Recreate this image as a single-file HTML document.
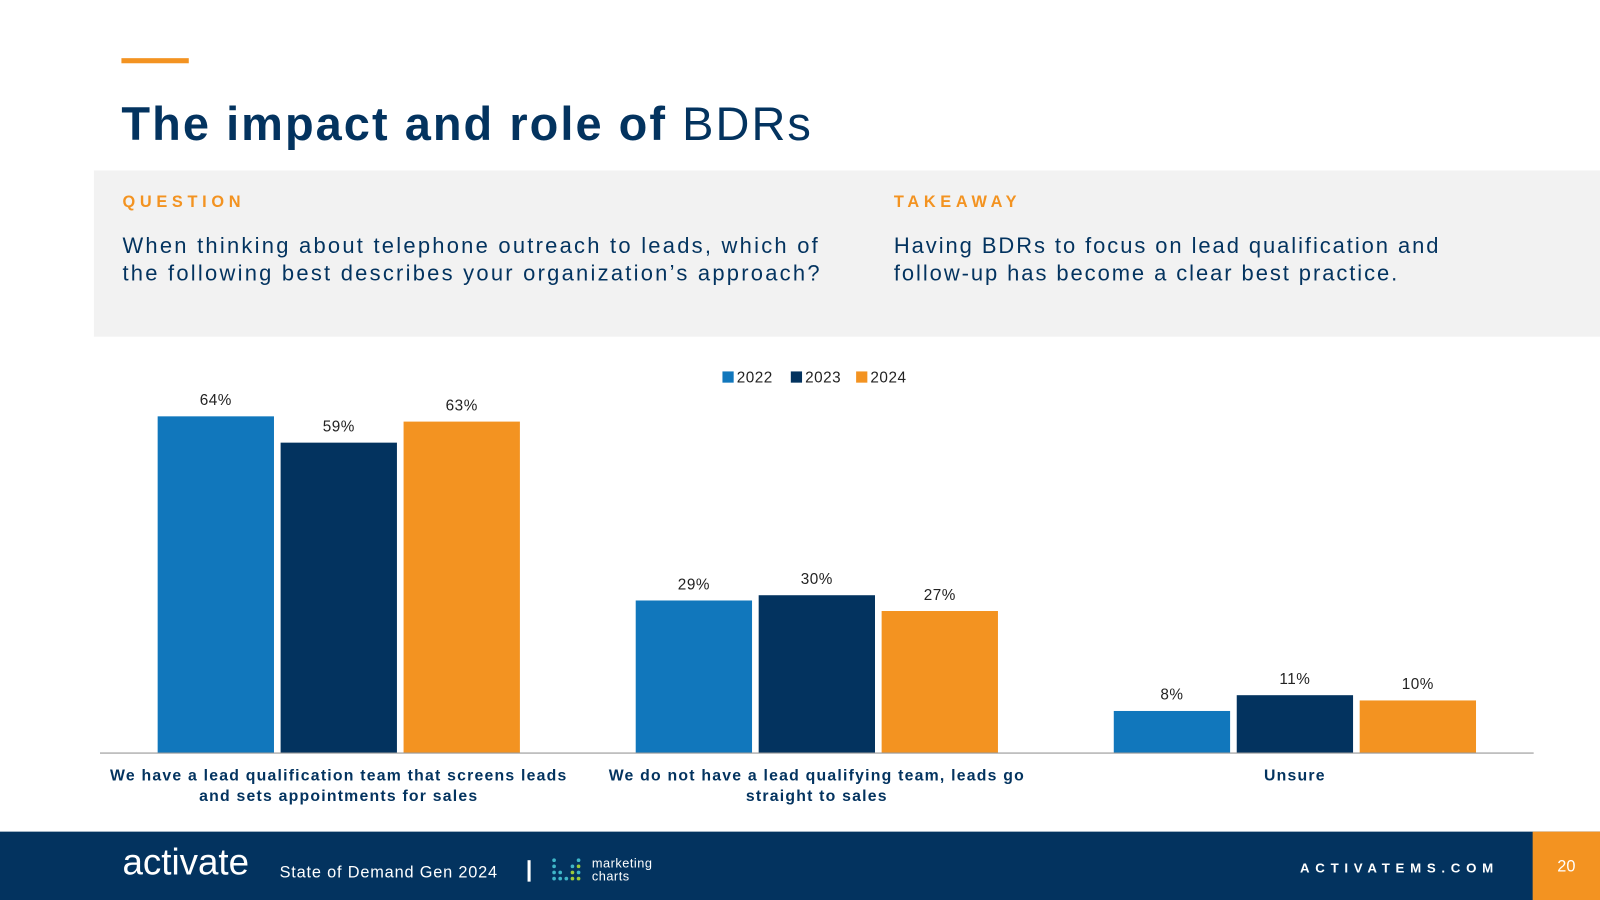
<!DOCTYPE html>
<html><head><meta charset="utf-8"><style>
html,body{margin:0;padding:0;width:1600px;height:900px;overflow:hidden;background:#fff}
#w{width:1568px;height:882px;position:relative;transform:scale(1.020408);transform-origin:0 0;font-family:"Liberation Sans",sans-serif}
.a{position:absolute}
</style></head><body>
<div id="w">
<div class="a" style="left:119px;top:57px;width:66px;height:5px;background:#f39321"></div>
<div class="a" style="left:119px;top:94px;font-size:46px;letter-spacing:2px;color:#03335f;white-space:nowrap"><b>The impact and role of</b> BDRs</div>
<div class="a" style="left:92px;top:167px;width:1476px;height:163px;background:#f2f2f2"></div>
<div class="a" style="left:120px;top:190px;font-size:16px;font-weight:bold;letter-spacing:4.6px;color:#f39321">QUESTION</div>
<div class="a" style="left:120px;top:228px;font-size:21.5px;line-height:27px;letter-spacing:2.2px;color:#03335f;white-space:nowrap">When thinking about telephone outreach to leads, which of<br>the following best describes your organization’s approach?</div>
<div class="a" style="left:876px;top:190px;font-size:16px;font-weight:bold;letter-spacing:4.6px;color:#f39321">TAKEAWAY</div>
<div class="a" style="left:876px;top:228px;font-size:21.5px;line-height:27px;letter-spacing:1.9px;color:#03335f;white-space:nowrap">Having BDRs to focus on lead qualification and<br>follow-up has become a clear best practice.</div>
<svg class="a" id="chart" style="left:0;top:340px" width="1568" height="470"></svg>
<div class="a" style="left:0;top:815px;width:1568px;height:67px;background:#03335f"></div>
<div class="a" style="left:120px;top:824px;font-size:36px;color:#fff;letter-spacing:0px">activate</div>
<div class="a" style="left:274px;top:847px;font-size:16px;letter-spacing:0.8px;color:#fff">State of Demand Gen 2024</div>
<div class="a" style="left:517px;top:843px;width:3px;height:21px;background:#fff"></div>
<svg class="a" style="left:540px;top:840px" width="34" height="28">
<g fill="#3fb6c8"><circle cx="3" cy="3" r="1.8"/><circle cx="3" cy="9" r="1.8"/><circle cx="3" cy="15" r="1.8"/><circle cx="3" cy="21" r="1.8"/><circle cx="9" cy="15" r="1.8"/><circle cx="9" cy="21" r="1.8"/><circle cx="15" cy="21" r="1.8"/><circle cx="21" cy="9" r="1.8"/><circle cx="27" cy="3" r="1.8"/><circle cx="27" cy="15" r="1.8"/></g>
<g fill="#9ccb3b"><circle cx="21" cy="15" r="1.8"/><circle cx="27" cy="9" r="1.8"/><circle cx="21" cy="21" r="1.8"/><circle cx="27" cy="21" r="1.8"/></g></svg>
<div class="a" style="left:580px;top:840px;font-size:12.5px;line-height:13px;letter-spacing:0.5px;color:#fff">marketing<br>charts</div>
<div class="a" style="left:1274px;top:843px;font-size:13px;font-weight:bold;letter-spacing:5.6px;color:#fff">ACTIVATEMS.COM</div>
<div class="a" style="left:1502px;top:815px;width:66px;height:67px;background:#f39321;color:#fff;font-size:16px;line-height:70px;text-align:center">20</div>
</div>
<script>
const categories=[["We have a lead qualification team that screens leads","and sets appointments for sales"],["We do not have a lead qualifying team, leads go","straight to sales"],["Unsure"]];
const seriesNames=["2022","2023","2024"];
const v2022=[64,29,8];
const v2023=[59,30,11];
const v2024=[63,27,10];
const series=[v2022,v2023,v2024];
const colors=["#1177bc","#03335f","#f39321"];
const svg=document.getElementById('chart');
const NS='http://www.w3.org/2000/svg';
const base=398, ppu=5.156;
const y=v=>base-v*ppu;
const gx=i=>332+i*468.5;
function mk(t,a){const e=document.createElementNS(NS,t);for(const k in a)e.setAttribute(k,a[k]);svg.appendChild(e);return e;}
series.forEach((s,si)=>{s.forEach((v,ci)=>{
 const cx=gx(ci)+(si-1)*120.5;
 const r=mk('rect',{x:cx-57,y:y(v),width:114,height:v*ppu,fill:colors[si]});
 
 
 const t=mk('text',{x:cx,y:y(v)-11,'text-anchor':'middle','font-size':15,'letter-spacing':0.5,fill:'#222','font-family':'Liberation Sans, sans-serif'});
 t.textContent=v+'%';
 
 
});});
const ax=mk('line',{x1:98,x2:1503,y1:base,y2:base,stroke:'#999','stroke-width':1});


categories.forEach((c,ci)=>{c.forEach((ln,li)=>{
 const t=mk('text',{x:gx(ci),y:base+27+li*20,'text-anchor':'middle','font-size':15.5,'letter-spacing':1.2,'font-weight':'bold',fill:'#03335f','font-family':'Liberation Sans, sans-serif'});
 t.textContent=ln;
 
 
});});
const lx=[708,775,839];
seriesNames.forEach((n,i)=>{
 const r=mk('rect',{x:lx[i],y:24,width:11,height:11,fill:colors[i]});
 
 
 const t=mk('text',{x:lx[i]+14,y:35,'font-size':15,'letter-spacing':0.5,fill:'#222','font-family':'Liberation Sans, sans-serif'});
 t.textContent=n;
 
 
});
</script>
</body></html>
